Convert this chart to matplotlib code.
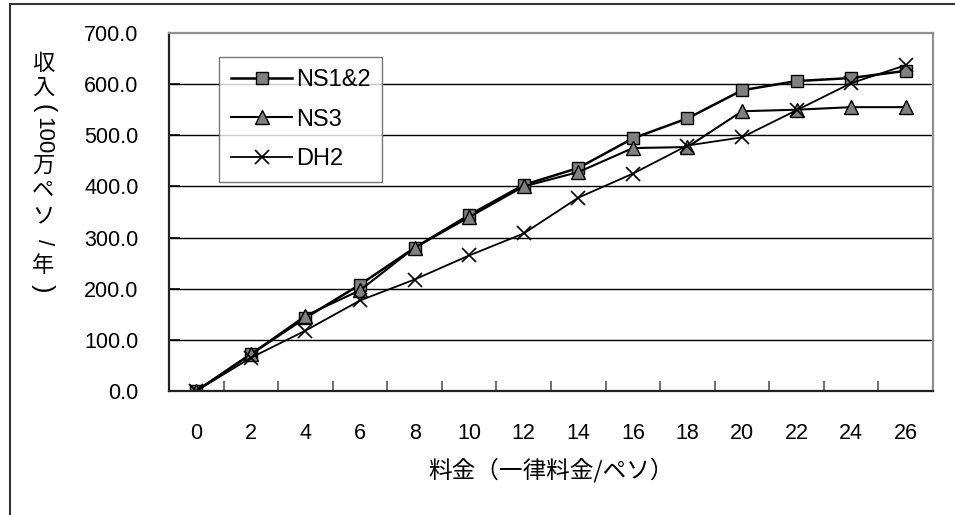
import matplotlib
matplotlib.use("Agg")
import matplotlib.pyplot as plt
import numpy as np
from matplotlib.lines import Line2D

# data
fares = [0, 2, 4, 6, 8, 10, 12, 14, 16, 18, 20, 22, 24, 26]
ns12 = [0, 72, 143, 208, 280, 344, 403, 436, 494, 533, 588, 606, 612, 626]
ns3 = [0, 72, 147, 197, 280, 340, 400, 428, 475, 477, 547, 550, 555, 555]
dh2 = [0, 65, 118, 177, 218, 265, 308, 378, 425, 480, 496, 549, 602, 637]
y_ticks = [0, 100, 200, 300, 400, 500, 600, 700]

num_font = "Liberation Sans"
jp_font = ["Noto Sans CJK JP", "DejaVu Sans"]

W, H = 955, 515
fig = plt.figure(figsize=(W / 100, H / 100), dpi=100)
ax = fig.add_axes([169 / W, 1 - 391 / H, (933 - 169) / W, (391 - 33) / H])

x = np.arange(len(fares))
ax.plot(x, ns12, color="black", lw=1.8, marker="s", ms=8.5,
        mfc="#808080", mec="black", mew=1.0, label="NS1&2")
ax.plot(x, ns3, color="black", lw=1.5, marker="^", ms=10,
        mfc="#808080", mec="black", mew=1.0, label="NS3")
ax.plot(x, dh2, color="black", lw=1.3, marker="x", ms=10,
        mec="black", mew=1.2, label="DH2")

ax.set_xlim(-0.5, len(fares) - 0.5)
ax.set_ylim(0, 700)
ax.set_yticks(y_ticks)
ax.set_yticklabels([f"{v:.1f}" for v in y_ticks], fontfamily=num_font, fontsize=15.5)
ax.set_xticks(x)
ax.set_xticklabels([str(f) for f in fares], fontfamily=num_font, fontsize=15.5)
ax.set_xticks(np.arange(len(fares) + 1) - 0.5, minor=True)
ax.tick_params(axis="x", which="major", length=0, pad=23)
ax.tick_params(axis="x", which="minor", direction="in", length=7, width=1.2, color="#555555")
ax.tick_params(axis="y", direction="in", length=8, width=1.2, pad=22)

for v in y_ticks[1:-1]:
    ax.axhline(v, color="black", lw=1.0, zorder=0)

for s in ["left", "bottom"]:
    ax.spines[s].set_color("#222222")
    ax.spines[s].set_linewidth(1.6)
for s in ["top", "right"]:
    ax.spines[s].set_color("#909090")
    ax.spines[s].set_linewidth(1.6)

leg = ax.legend(loc="upper left", bbox_to_anchor=((219 - 169) / 764, (391 - 57) / 358),
                prop={"family": num_font, "size": 17}, frameon=True, fancybox=False,
                handlelength=2.6, handletextpad=0.15, labelspacing=0.75,
                borderpad=0.5, borderaxespad=0)
leg.get_frame().set_edgecolor("#555555")
leg.get_frame().set_linewidth(1.0)

ax.set_xlabel("料金（一律料金/ペソ）", fontfamily=jp_font, fontsize=17, labelpad=10)

# vertical y label: upright kanji/kana, rotated brackets and digits
pieces = [("収", 64, 0), ("入", 87, 0), ("(", 108, -90), ("100", 136, -90),
          ("万", 165, 0), ("ペ", 190, 0), ("ソ", 216, 0), ("/", 242, -90),
          ("年", 265, 0), (")", 288, -90)]
for txt, py, rot in pieces:
    fam = num_font if rot else jp_font
    fs = 18 if txt in "()" else 16
    fig.text(43 / W, 1 - py / H, txt, fontfamily=fam, fontsize=fs,
             rotation=rot, ha="center", va="center")

# outer frame (extends past the right and bottom edges)
fig.add_artist(Line2D([10 / W, 1.0], [1 - 4 / H, 1 - 4 / H], transform=fig.transFigure,
                      color="#333333", lw=1.5))
fig.add_artist(Line2D([10 / W, 10 / W], [0.0, 1 - 4 / H], transform=fig.transFigure,
                      color="#333333", lw=1.5))

fig.savefig("out.png", dpi=100, facecolor="white")
